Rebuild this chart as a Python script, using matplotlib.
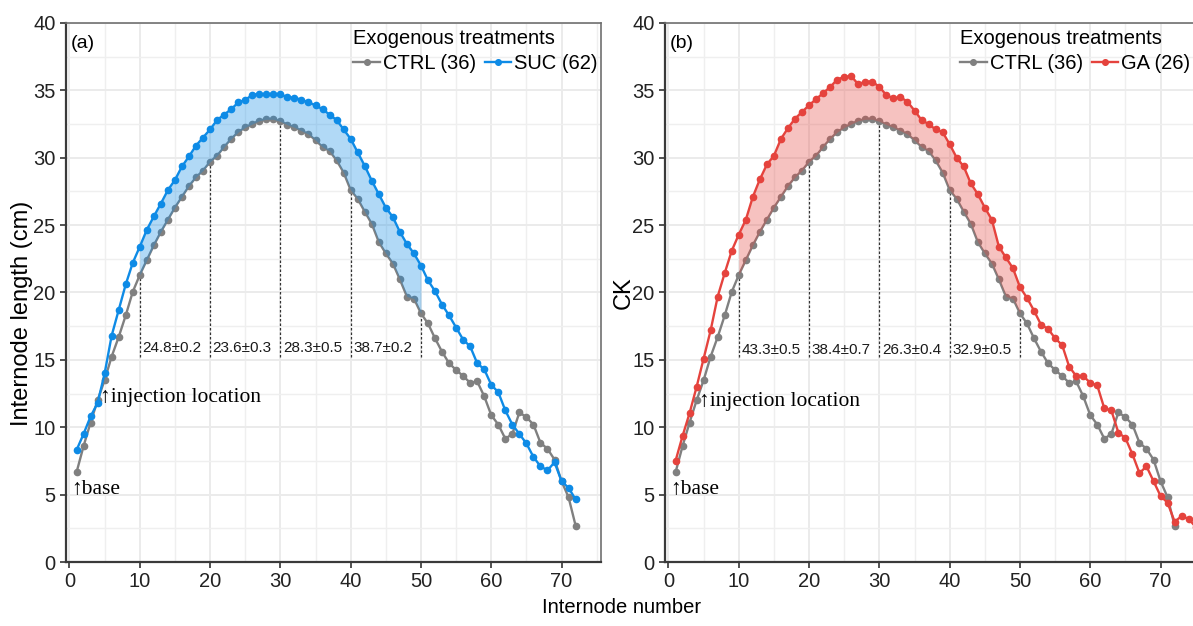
import matplotlib.pyplot as plt
from matplotlib.ticker import MultipleLocator

plt.rcParams['font.family'] = ['Liberation Sans', 'DejaVu Sans']

# internode position along the stem, counted from the base
internode = list(range(1, 73))

# mean internode length (cm) per treatment
ctrl = [6.65, 8.6, 10.35, 12.0, 13.5, 15.25, 16.7, 18.3, 20.05, 21.3,
        22.4, 23.5, 24.5, 25.4, 26.3, 27.1, 27.9, 28.55, 29.05, 29.7,
        30.15, 30.8, 31.4, 31.9, 32.25, 32.5, 32.75, 32.85, 32.85, 32.7,
        32.45, 32.25, 32.0, 31.75, 31.3, 30.8, 30.5, 29.8, 28.9, 27.6,
        26.95, 26.0, 25.1, 23.75, 22.9, 22.15, 20.97, 19.7, 19.55, 18.45,
        17.7, 16.6, 15.6, 14.75, 14.25, 13.8, 13.3, 13.4, 12.3, 10.9,
        10.2, 9.15, 9.5, 11.1, 10.75, 10.2, 8.85, 8.4, 7.6, 6.0,
        4.8, 2.7]
suc = [8.3, 9.5, 10.8, 11.8, 14.0, 16.8, 18.7, 20.6, 22.2, 23.4,
       24.65, 25.65, 26.6, 27.6, 28.35, 29.35, 30.1, 30.9, 31.5, 32.1,
       32.8, 33.2, 33.6, 34.1, 34.3, 34.65, 34.75, 34.7, 34.75, 34.7,
       34.5, 34.45, 34.3, 34.1, 33.9, 33.6, 33.2, 32.8, 32.1, 31.4,
       30.4, 29.4, 28.3, 27.3, 26.3, 25.6, 24.5, 23.6, 22.9, 22.0,
       20.9, 20.1, 19.1, 18.3, 17.4, 16.5, 16.0, 14.75, 14.3, 13.15,
       12.6, 11.25, 10.2, 9.5, 8.8, 7.8, 7.1, 6.8, 7.4, 6.0,
       5.5, 4.65]
ga = [7.5, 9.35, 11.05, 13.0, 15.1, 17.2, 19.7, 21.45, 23.1, 24.3,
      25.4, 27.1, 28.4, 29.5, 30.15, 31.4, 32.2, 32.9, 33.4, 33.9,
      34.35, 34.8, 35.25, 35.8, 36.0, 36.05, 35.45, 35.65, 35.65, 35.25,
      34.65, 34.4, 34.5, 34.15, 33.5, 32.8, 32.5, 32.1, 31.9, 31.0,
      30.0, 29.35, 28.1, 27.3, 26.3, 25.4, 23.4, 22.6, 21.8, 20.4,
      19.6, 18.65, 17.6, 17.3, 16.6, 16.1, 14.5, 13.8, 13.8, 13.3,
      13.1, 11.4, 11.25, 9.6, 9.2, 8.0, 6.6, 7.1, 6.0, 4.9,
      4.4, 3.0, 3.4, 3.2, 2.6]
ga_internode = list(range(1, len(ga) + 1))

# segment boundaries and the % increase written in each segment
seg_edges = [10, 20, 30, 40, 50]
suc_increase = ['24.8±0.2', '23.6±0.3', '28.3±0.5', '38.7±0.2']
ga_increase = ['43.3±0.5', '38.4±0.7', '26.3±0.4', '32.9±0.5']

GRAY = '#808080'
BLUE = '#0E8BE6'
RED = '#E5433D'


def draw_panel(ax, tx, ty, color, label, increase, tag, ylabel, leg_x,
               note_y, inj_y, ylab_x, ylab_y):
    ax.set_xlim(-0.5, 75.6)
    ax.set_ylim(0, 40)
    ax.xaxis.set_major_locator(MultipleLocator(10))
    ax.xaxis.set_minor_locator(MultipleLocator(5))
    ax.yaxis.set_major_locator(MultipleLocator(5))
    ax.yaxis.set_minor_locator(MultipleLocator(2.5))
    ax.grid(which='major', color='#EBEBEB', lw=1.4, zorder=0)
    ax.grid(which='minor', color='#EFEFEF', lw=1.0, zorder=0)
    ax.set_axisbelow(True)

    ax.plot(internode, ctrl, '-o', color=GRAY, lw=1.7, ms=4.5,
            label='CTRL (36)', zorder=3)

    # shaded gap between control and treatment over the segments
    xs = list(range(seg_edges[0], seg_edges[-1] + 1))
    lo = [ctrl[i - 1] for i in xs]
    hi = [ty[i - 1] for i in xs]
    ax.fill_between(xs, lo, hi, color=color, alpha=0.32, lw=0, zorder=4)

    ax.plot(tx, ty, '-o', color=color, lw=1.7, ms=4.5, label=label, zorder=5)

    for e in seg_edges:
        ax.plot([e, e], [15.2, ctrl[e - 1]], color='#333333', lw=0.9,
                ls=(0, (2, 1.6)), zorder=2)
    for e, txt in zip(seg_edges[:-1], increase):
        ax.text(e + 0.35, note_y, txt, fontsize=11, ha='left', va='center',
                color='#1a1a1a')

    serif = ['Liberation Serif', 'DejaVu Serif']
    ax.text(4.3, inj_y, '↑injection location', family=serif, fontsize=15.5,
            ha='left', va='center')
    ax.text(0.3, 5.4, '↑base', family=serif, fontsize=15.5,
            ha='left', va='center')

    ax.text(0.008, 0.977, tag, transform=ax.transAxes, fontsize=14,
            ha='left', va='top')

    ax.legend(ncol=2, title='Exogenous treatments', alignment='left',
              frameon=False, loc='upper right',
              bbox_to_anchor=(leg_x, 1.015), fontsize=14.5,
              title_fontsize=14.5, handlelength=1.3,
              handletextpad=0.15, columnspacing=0.45, borderpad=0.2,
              labelspacing=0.3, markerscale=0.9)

    ax.set_ylabel(ylabel, fontsize=17)
    ax.yaxis.set_label_coords(ylab_x, ylab_y)
    ax.tick_params(which='major', direction='out', length=4, width=1.2,
                   color='#333333', labelsize=14.5, labelcolor='#222222')
    ax.tick_params(which='minor', length=0)
    for s in ['left', 'bottom']:
        ax.spines[s].set_color('#3a3a3a')
        ax.spines[s].set_linewidth(1.6)
    for s in ['top', 'right']:
        ax.spines[s].set_color('#707070')
        ax.spines[s].set_linewidth(1.2)


fig = plt.figure(figsize=(11.93, 6.26), dpi=100)
ax1 = fig.add_axes([0.0553, 0.1022, 0.4484, 0.8611])
ax2 = fig.add_axes([0.5574, 0.1022, 0.4484, 0.8611])

draw_panel(ax1, internode, suc, BLUE, 'SUC (62)', suc_increase, '(a)',
           'Internode length (cm)', 1.02, 15.9, 12.2, -0.061, 0.462)
draw_panel(ax2, ga_internode, ga, RED, 'GA (26)', ga_increase, '(b)',
           'CK', 1.008, 15.75, 11.9, -0.057, 0.5)

fig.text(0.521, 0.015, 'Internode number', fontsize=14.5, ha='center',
         va='bottom')

fig.savefig('out.png', dpi=100)
